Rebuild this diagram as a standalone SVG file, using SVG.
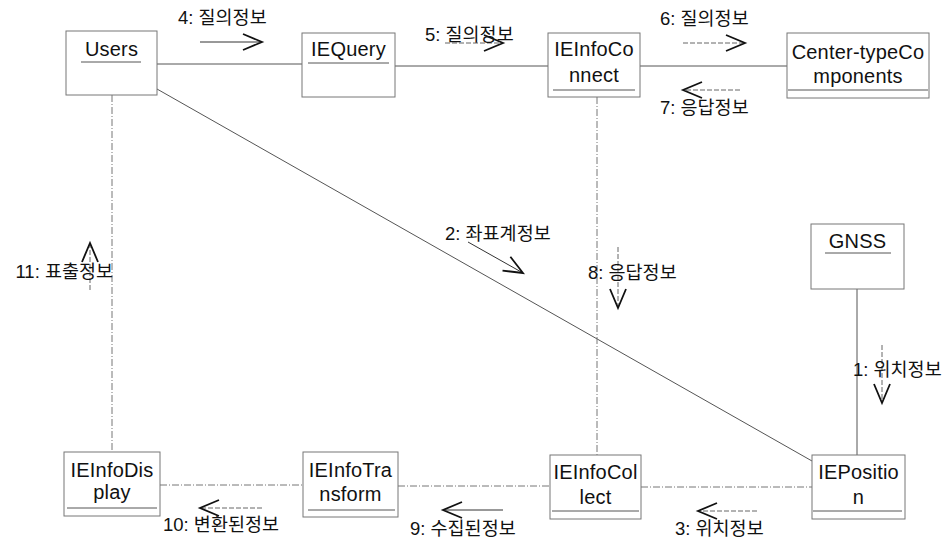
<svg xmlns="http://www.w3.org/2000/svg" width="952" height="543" viewBox="0 0 952 543">
<style>
.box{fill:#fff;stroke:#777;stroke-width:1}
.ul{stroke:#555;stroke-width:1}
.nt{font-family:"Liberation Sans","Noto Sans CJK KR",sans-serif;font-size:20px;fill:#111;text-anchor:middle;letter-spacing:0.2px}
.lb{font-family:"Liberation Sans","Noto Sans CJK KR",sans-serif;font-size:18.5px;fill:#111}
.cn{stroke:#555;stroke-width:1;fill:none}
.cd{stroke:#777;stroke-width:1;fill:none;stroke-dasharray:7 2 1 2}
.ar{stroke:#333;stroke-width:1;fill:none}
.ad{stroke:#666;stroke-width:1;fill:none;stroke-dasharray:5 2}
</style>
<defs>
<marker id="oh" markerUnits="userSpaceOnUse" markerWidth="24" markerHeight="22" refX="20" refY="10" orient="auto" viewBox="0 0 24 22">
<path d="M1,2 L20,10 L1,18" fill="none" stroke="#111" stroke-width="1.8"/>
</marker>
</defs>
<g id="connectors">
<line class="cn" x1="157" y1="64" x2="302" y2="64"/>
<line class="cn" x1="395" y1="66" x2="548" y2="66"/>
<line class="cn" x1="640" y1="66" x2="787" y2="66"/>
<line class="cn" x1="157" y1="89" x2="812" y2="461"/>
<line class="cd" x1="112" y1="95" x2="112" y2="452"/>
<line class="cd" x1="597" y1="97" x2="597" y2="455"/>
<line class="cn" x1="857" y1="289" x2="857" y2="455"/>
<line class="cd" x1="160" y1="485" x2="303" y2="485"/>
<line class="cd" x1="398" y1="486" x2="550" y2="486"/>
<line class="cd" x1="641" y1="487" x2="812" y2="487"/>
</g>
<g id="messages">
<line class="ar" x1="200" y1="42" x2="262" y2="42" marker-end="url(#oh)"/>
<line class="ad" x1="445" y1="43" x2="503" y2="43" marker-end="url(#oh)"/>
<line class="ad" x1="683" y1="43" x2="745" y2="43" marker-end="url(#oh)"/>
<line class="ad" x1="740" y1="90" x2="683" y2="90" marker-end="url(#oh)"/>
<line class="ar" x1="468" y1="242" x2="523" y2="273" marker-end="url(#oh)"/>
<line class="ad" x1="618" y1="247" x2="618" y2="308" marker-end="url(#oh)"/>
<line class="ad" x1="90" y1="290" x2="90" y2="243" marker-end="url(#oh)"/>
<line class="ad" x1="882" y1="345" x2="882" y2="403" marker-end="url(#oh)"/>
<line class="ad" x1="757" y1="511" x2="698" y2="511" marker-end="url(#oh)"/>
<line class="ar" x1="503" y1="510" x2="443" y2="510" marker-end="url(#oh)"/>
<line class="ad" x1="262" y1="508" x2="200" y2="508" marker-end="url(#oh)"/>
<text class="lb" x="178" y="24">4: 질의정보</text>
<text class="lb" x="425" y="41">5: 질의정보</text>
<text class="lb" x="660" y="25">6: 질의정보</text>
<text class="lb" x="660" y="114">7: 응답정보</text>
<text class="lb" x="445" y="240">2: 좌표계정보</text>
<text class="lb" x="588" y="279">8: 응답정보</text>
<text class="lb" x="113" y="278" text-anchor="end">11: 표출정보</text>
<text class="lb" x="853" y="376">1: 위치정보</text>
<text class="lb" x="675" y="535">3: 위치정보</text>
<text class="lb" x="410" y="535">9: 수집된정보</text>
<text class="lb" x="163" y="531">10: 변환된정보</text>
</g>
<g id="Users">
<rect class="box" x="66" y="31" width="91" height="64"/>
<text class="nt" x="111.5" y="56">Users</text>
<line class="ul" x1="81" y1="62" x2="141" y2="62"/>
</g>
<g id="IEQuery">
<rect class="box" x="302" y="33" width="93" height="64"/>
<text class="nt" x="348.5" y="56">IEQuery</text>
<line class="ul" x1="308" y1="63" x2="389" y2="63"/>
</g>
<g id="IEInfoConnect">
<rect class="box" x="548" y="33" width="92" height="64"/>
<text class="nt" x="594" y="56">IEInfoCo</text>
<text class="nt" x="594" y="82">nnect</text>
<line class="ul" x1="553" y1="90" x2="635" y2="90"/>
</g>
<g id="CenterTypeComponents">
<rect class="box" x="787" y="33" width="142" height="65"/>
<text class="nt" x="858" y="59">Center-typeCo</text>
<text class="nt" x="858" y="83">mponents</text>
<line class="ul" x1="788" y1="90" x2="928" y2="90"/>
</g>
<g id="GNSS">
<rect class="box" x="811" y="224" width="93" height="65"/>
<text class="nt" x="857.5" y="248">GNSS</text>
<line class="ul" x1="825" y1="253" x2="891" y2="253"/>
</g>
<g id="IEInfoDisplay">
<rect class="box" x="64" y="452" width="96" height="64"/>
<text class="nt" x="112" y="477">IEInfoDis</text>
<text class="nt" x="112" y="499">play</text>
<line class="ul" x1="67" y1="508" x2="157" y2="508"/>
</g>
<g id="IEInfoTransform">
<rect class="box" x="303" y="452" width="95" height="65"/>
<text class="nt" x="350.5" y="477">IEInfoTra</text>
<text class="nt" x="350.5" y="501">nsform</text>
<line class="ul" x1="308" y1="510" x2="395" y2="510"/>
</g>
<g id="IEInfoCollect">
<rect class="box" x="550" y="455" width="91" height="64"/>
<text class="nt" x="595.5" y="479">IEInfoCol</text>
<text class="nt" x="595.5" y="504">lect</text>
<line class="ul" x1="552" y1="511" x2="639" y2="511"/>
</g>
<g id="IEPosition">
<rect class="box" x="812" y="455" width="93" height="64"/>
<text class="nt" x="858.5" y="479">IEPositio</text>
<text class="nt" x="858.5" y="504">n</text>
<line class="ul" x1="813" y1="511" x2="902" y2="511"/>
</g>
</svg>
